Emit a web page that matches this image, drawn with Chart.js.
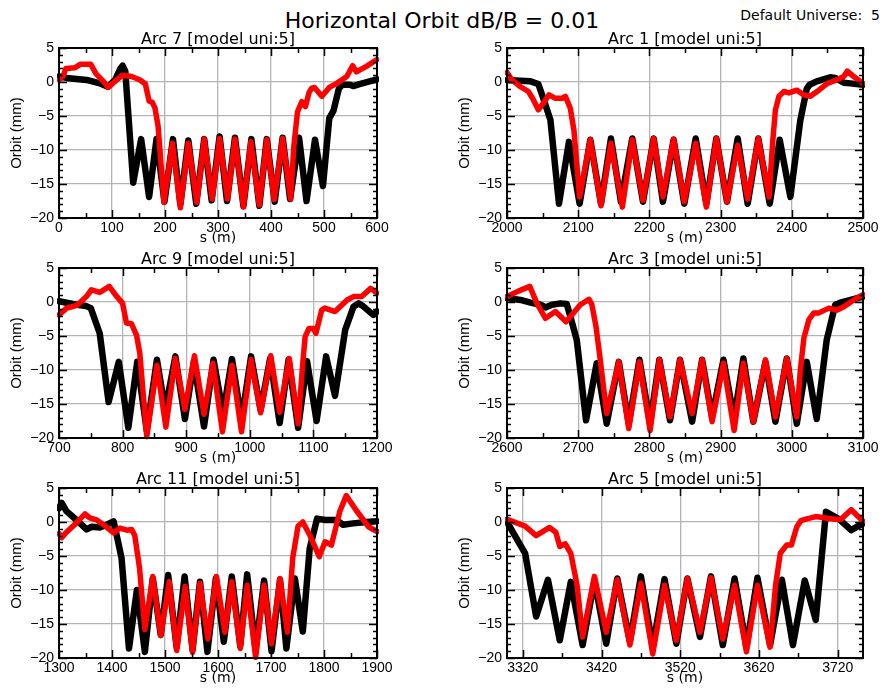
<!DOCTYPE html>
<html><head><meta charset="utf-8">
<script src="https://cdn.jsdelivr.net/npm/chart.js@4/dist/chart.umd.min.js"></script>
<style>
html,body{margin:0;padding:0;background:#fff;width:884px;height:689px;overflow:hidden;position:relative}
canvas{position:absolute}
#title{position:absolute;left:0;width:884px;top:8px;text-align:center;font:22px "DejaVu Sans";line-height:26px;color:#000}
#uni{position:absolute;right:4px;top:7px;font:14px "DejaVu Sans";line-height:16px;white-space:pre;color:#000}
</style></head><body>
<div id="title">Horizontal Orbit dB/B = 0.01</div>
<div id="uni">Default Universe:  5</div>
<canvas id="c0"></canvas><canvas id="c1"></canvas><canvas id="c2"></canvas>
<canvas id="c3"></canvas><canvas id="c4"></canvas><canvas id="c5"></canvas>
<script>
// ---------- data: [s (m), orbit (mm)] ----------
const arc7Black = [[0,0.8],[14,0.6],[52,0.3],[77,-0.2],[92,-0.7],[106,0.3],[116,2.0],[120,2.4],[125,1.6],[140,-14.8],[155,-8.4],[170,-16.9],[184,-8.4],[199,-17.6],[215,-8.4],[229,-18.0],[244,-8.6],[259,-17.9],[274,-8.4],[288,-17.4],[303,-8.0],[317,-17.5],[332,-8.2],[348,-18.2],[363,-8.4],[378,-18.2],[392,-8.4],[407,-17.6],[422,-8.2],[436,-17.2],[453,-8.2],[467,-17.5],[483,-8.5],[498,-15.3],[510,-5.3],[518,-4.2],[528,-1.0],[534,-0.4],[549,-0.4],[555,-0.6],[567,-0.3],[600,0.4]];
const arc7Red = [[0,0.3],[8,0.9],[13,2.0],[30,2.1],[40,2.6],[60,2.6],[70,1.2],[84,0.1],[93,-0.8],[104,0.0],[120,1.0],[137,0.8],[153,0.3],[163,-0.3],[170,-2.8],[176,-3.0],[181,-3.8],[187,-6.5],[198,-17.7],[214,-9.0],[229,-18.5],[244,-9.0],[260,-17.7],[274,-8.4],[289,-17.2],[303,-8.3],[318,-17.2],[332,-8.4],[348,-18.4],[362,-8.8],[378,-18.1],[392,-8.5],[406,-17.3],[422,-8.3],[437,-17.2],[443,-9.5],[450,-4.4],[458,-2.9],[465,-3.6],[472,-1.5],[477,-0.9],[482,-0.8],[496,-2.1],[510,-0.8],[524,-0.2],[543,0.8],[554,2.4],[561,1.5],[580,2.3],[600,3.3]];

const arc1Black = [[2000,0.3],[2019,0.2],[2033,0.1],[2044,-0.3],[2051,-2.4],[2061,-5.6],[2073,-17.9],[2087,-8.8],[2102,-17.9],[2117,-8.5],[2132,-17.9],[2146,-8.3],[2160,-17.6],[2176,-8.3],[2191,-17.6],[2206,-8.3],[2219,-17.6],[2234,-8.5],[2249,-17.9],[2265,-8.3],[2280,-17.9],[2294,-8.3],[2309,-17.6],[2324,-8.3],[2338,-17.9],[2353,-8.3],[2369,-17.9],[2383,-8.5],[2398,-16.9],[2412,-5.6],[2421,-1.0],[2425,-0.4],[2435,0.1],[2454,0.7],[2461,0.6],[2473,-0.1],[2482,-0.2],[2500,-0.4]];
const arc1Red = [[2000,1.4],[2007,0.3],[2019,-0.7],[2030,-1.4],[2037,-2.6],[2044,-4.1],[2049,-3.4],[2059,-1.9],[2068,-2.4],[2077,-2.4],[2082,-2.1],[2089,-3.9],[2094,-7.1],[2102,-16.9],[2117,-8.5],[2132,-18.2],[2146,-9.0],[2162,-18.4],[2176,-8.5],[2191,-17.4],[2206,-8.3],[2219,-16.9],[2234,-8.4],[2249,-17.6],[2265,-9.0],[2280,-18.4],[2294,-8.3],[2309,-17.6],[2324,-9.3],[2338,-17.2],[2353,-8.3],[2368,-16.9],[2373,-9.0],[2377,-4.1],[2382,-2.1],[2389,-1.4],[2396,-1.6],[2407,-1.2],[2417,-1.9],[2426,-2.1],[2438,-1.2],[2450,-0.2],[2463,0.3],[2473,0.8],[2478,1.6],[2487,0.8],[2500,-0.2]];

const arc9Black = [[700,0.1],[712,-0.1],[728,-0.4],[743,-0.6],[750,-0.9],[764,-4.6],[778,-14.7],[794,-8.8],[809,-18.5],[823,-8.8],[838,-18.9],[854,-8.5],[867,-15.9],[883,-8.0],[898,-17.2],[912,-8.8],[928,-18.3],[943,-8.5],[958,-16.4],[972,-8.4],[987,-17.4],[1002,-8.0],[1017,-15.9],[1032,-8.3],[1047,-17.8],[1061,-8.5],[1076,-18.5],[1090,-8.7],[1105,-17.5],[1120,-8.0],[1134,-13.8],[1150,-4.1],[1163,-0.7],[1171,-0.2],[1178,-0.6],[1194,-1.9],[1200,-1.4]];
const arc9Red = [[700,-1.9],[712,-0.9],[720,-0.7],[728,-0.5],[743,0.8],[751,1.8],[764,1.4],[779,2.3],[790,0.9],[800,-0.2],[806,-3.1],[814,-3.2],[822,-4.9],[827,-7.5],[838,-19.8],[854,-9.3],[868,-18.4],[883,-8.3],[898,-15.8],[913,-7.9],[928,-16.5],[942,-9.0],[957,-19.1],[972,-9.3],[987,-19.1],[1002,-8.5],[1017,-16.3],[1033,-7.9],[1047,-16.2],[1062,-8.3],[1076,-17.9],[1083,-9.3],[1087,-5.1],[1093,-3.9],[1100,-3.9],[1104,-4.6],[1113,-1.2],[1118,-0.9],[1134,-1.4],[1153,0.3],[1163,0.8],[1176,0.8],[1190,2.0],[1200,1.3]];

const arc3Black = [[2600,0.6],[2619,0.3],[2633,-0.1],[2647,-0.4],[2654,-0.8],[2663,-0.4],[2675,-0.2],[2684,-0.3],[2691,-2.9],[2698,-5.6],[2711,-17.4],[2726,-9.0],[2740,-17.9],[2757,-8.8],[2771,-17.9],[2786,-8.5],[2801,-17.9],[2814,-8.5],[2829,-17.4],[2843,-8.5],[2860,-17.6],[2874,-8.5],[2888,-16.9],[2904,-8.5],[2919,-17.2],[2932,-8.3],[2946,-17.6],[2963,-8.8],[2977,-17.6],[2993,-8.3],[3007,-17.9],[3021,-8.8],[3035,-17.2],[3049,-5.6],[3061,-0.4],[3068,-0.1],[3100,0.8]];
const arc3Red = [[2600,0.8],[2616,1.6],[2632,2.3],[2642,-0.2],[2654,-2.4],[2668,-1.4],[2683,-2.9],[2691,-1.9],[2703,-0.4],[2715,0.4],[2719,-0.3],[2725,-3.6],[2731,-8.5],[2740,-16.4],[2757,-8.8],[2771,-18.6],[2786,-8.8],[2801,-18.9],[2814,-8.5],[2829,-16.9],[2843,-8.5],[2860,-16.4],[2874,-8.5],[2888,-17.6],[2904,-9.0],[2919,-18.9],[2932,-9.0],[2946,-17.6],[2963,-8.5],[2977,-16.9],[2993,-8.3],[3007,-16.9],[3012,-10.0],[3017,-5.3],[3024,-2.6],[3031,-1.6],[3038,-1.6],[3052,-0.9],[3063,-1.2],[3073,-0.7],[3087,0.3],[3100,1.1]];

const arc11Black = [[1300,2.0],[1305,2.8],[1314,1.6],[1333,0.3],[1352,-1.1],[1362,-0.7],[1377,-0.8],[1390,-0.4],[1403,0.1],[1409,-2.0],[1418,-5.3],[1432,-18.6],[1447,-10.0],[1462,-19.1],[1477,-8.3],[1492,-16.6],[1506,-7.8],[1522,-18.4],[1537,-8.0],[1552,-18.8],[1566,-8.8],[1580,-19.1],[1596,-8.3],[1611,-17.6],[1626,-8.0],[1642,-18.2],[1655,-7.7],[1671,-18.8],[1687,-8.6],[1701,-19.0],[1717,-8.5],[1729,-18.6],[1745,-8.3],[1760,-16.1],[1773,-3.9],[1787,0.5],[1802,0.3],[1823,0.3],[1836,-0.4],[1855,-0.2],[1880,0.0],[1900,0.1]];
const arc11Red = [[1300,-1.7],[1305,-2.3],[1314,-1.5],[1332,-0.2],[1349,1.2],[1358,0.6],[1371,0.3],[1384,-0.4],[1403,-1.6],[1415,-0.9],[1428,-1.2],[1437,-1.1],[1443,-2.0],[1452,-6.8],[1462,-15.8],[1477,-8.0],[1492,-16.7],[1508,-8.8],[1522,-18.9],[1538,-9.5],[1552,-19.2],[1566,-9.0],[1581,-17.2],[1597,-8.0],[1613,-16.2],[1626,-8.8],[1642,-18.6],[1655,-9.3],[1671,-19.9],[1687,-9.3],[1701,-17.9],[1717,-8.3],[1731,-16.2],[1741,-5.3],[1751,-0.6],[1760,0.0],[1773,-1.9],[1791,-5.1],[1802,-2.9],[1814,-3.4],[1830,1.6],[1842,3.9],[1860,1.8],[1884,-0.7],[1900,-1.4]];

const arc5Black = [[3300,0.0],[3323,-4.6],[3337,-13.9],[3352,-8.5],[3367,-17.4],[3381,-8.8],[3396,-18.1],[3411,-8.6],[3426,-17.9],[3440,-8.3],[3456,-17.6],[3470,-8.0],[3485,-18.4],[3500,-8.4],[3515,-17.9],[3529,-8.3],[3545,-16.9],[3559,-8.0],[3574,-18.1],[3589,-8.3],[3604,-18.4],[3618,-8.2],[3634,-18.1],[3649,-8.5],[3663,-18.1],[3678,-8.6],[3692,-14.4],[3705,1.5],[3722,0.4],[3737,-1.2],[3752,-0.2]];
const arc5Red = [[3300,0.4],[3323,-0.6],[3337,-2.0],[3354,-0.8],[3362,-1.5],[3367,-3.6],[3374,-3.2],[3381,-4.6],[3389,-9.3],[3396,-16.9],[3411,-8.0],[3426,-16.2],[3440,-8.5],[3456,-18.1],[3470,-9.0],[3485,-19.4],[3500,-9.3],[3515,-17.4],[3529,-8.3],[3545,-16.2],[3559,-8.2],[3574,-17.2],[3589,-9.3],[3604,-19.1],[3618,-9.3],[3634,-18.4],[3641,-9.3],[3647,-4.6],[3655,-3.4],[3661,-3.4],[3668,-0.7],[3673,0.2],[3682,0.5],[3692,0.8],[3716,0.4],[3724,0.4],[3737,1.8],[3752,0.1]];

// ---------- tick labels ----------
const yTicks = [-20, -15, -10, -5, 0, 5];
const arc7Ticks = [0, 100, 200, 300, 400, 500, 600];
const arc1Ticks = [2000, 2100, 2200, 2300, 2400, 2500];
const arc9Ticks = [700, 800, 900, 1000, 1100, 1200];
const arc3Ticks = [2600, 2700, 2800, 2900, 3000, 3100];
const arc11Ticks = [1300, 1400, 1500, 1600, 1700, 1800, 1900];
const arc5Ticks = [3320, 3420, 3520, 3620, 3720];
const titles = ['Arc 7 [model uni:5]', 'Arc 1 [model uni:5]', 'Arc 9 [model uni:5]', 'Arc 3 [model uni:5]', 'Arc 11 [model uni:5]', 'Arc 5 [model uni:5]'];
const xMinorStep = 50, yMinorStep = 1;

// ---------- layout ----------
const panels = [
  {title: titles[0], black: arc7Black, red: arc7Red, ticks: arc7Ticks, min: 0, max: 600, col: 0, row: 0},
  {title: titles[1], black: arc1Black, red: arc1Red, ticks: arc1Ticks, min: 2000, max: 2500, col: 1, row: 0},
  {title: titles[2], black: arc9Black, red: arc9Red, ticks: arc9Ticks, min: 700, max: 1200, col: 0, row: 1},
  {title: titles[3], black: arc3Black, red: arc3Red, ticks: arc3Ticks, min: 2600, max: 3100, col: 1, row: 1},
  {title: titles[4], black: arc11Black, red: arc11Red, ticks: arc11Ticks, min: 1300, max: 1900, col: 0, row: 2},
  {title: titles[5], black: arc5Black, red: arc5Red, ticks: arc5Ticks, min: 3300, max: 3752, col: 1, row: 2}
];
const colGeom = [{left: 0, width: 440, padR: 63}, {left: 448, width: 436, padR: 21}];
const rowTop = [28, 248, 468];
const canvasH = 222;

const framePlugin = {
  id: 'frame',
  afterDatasetsDraw(chart, args, opts) {
    const {ctx, chartArea: a} = chart;
    const x = chart.scales.x, y = chart.scales.y;
    ctx.save();
    ctx.strokeStyle = '#000';
    ctx.lineWidth = 1.5;
    ctx.beginPath();
    const base = opts.base;
    let v = base + Math.ceil((x.min - base) / xMinorStep) * xMinorStep;
    for (; v <= x.max + 1e-6; v += xMinorStep) {
      const px = Math.round(x.getPixelForValue(v)) + 0.5;
      const major = Math.round((v - base) / xMinorStep) % 2 === 0;
      const len = major ? 8 : 5;
      ctx.moveTo(px, a.top); ctx.lineTo(px, a.top + len);
      ctx.moveTo(px, a.bottom); ctx.lineTo(px, a.bottom - len);
    }
    for (let w = y.min; w <= y.max + 1e-6; w += yMinorStep) {
      const py = Math.round(y.getPixelForValue(w)) + 0.5;
      const len = (Math.round(w) % 5 === 0) ? 8 : 4;
      ctx.moveTo(a.left, py); ctx.lineTo(a.left + len, py);
      ctx.moveTo(a.right, py); ctx.lineTo(a.right - len, py);
    }
    ctx.stroke();
    ctx.lineWidth = 2;
    ctx.strokeRect(a.left, a.top, a.right - a.left, a.bottom - a.top);
    ctx.restore();
  }
};

const toXY = arr => arr.map(p => ({x: p[0], y: p[1]}));
const minus = v => String(v).replace('-', '\u2212');

panels.forEach((p, i) => {
  const cv = document.getElementById('c' + i);
  const g = colGeom[p.col];
  cv.width = g.width; cv.height = canvasH;
  cv.style.left = g.left + 'px'; cv.style.top = rowTop[p.row] + 'px';
  cv.style.width = g.width + 'px'; cv.style.height = canvasH + 'px';
  new Chart(cv, {
    type: 'line',
    data: {
      datasets: [
        {data: toXY(p.black), borderColor: '#000000', borderWidth: 6.5, order: 2},
        {data: toXY(p.red), borderColor: '#ff0000', borderWidth: 5.5, order: 1}
      ]
    },
    options: {
      responsive: false, animation: false, devicePixelRatio: 1,
      parsing: true,
      elements: {
        line: {tension: 0, borderJoinStyle: 'round', borderCapStyle: 'round', fill: false},
        point: {radius: 0, hoverRadius: 0}
      },
      datasets: {line: {clip: 2}},
      layout: {padding: {left: 0, right: g.padR, top: 0, bottom: 0}},
      plugins: {
        legend: {display: false},
        tooltip: {enabled: false},
        title: {display: true, text: p.title, color: '#000', fullSize: false,
          font: {family: 'DejaVu Sans', size: 16, weight: 'normal', lineHeight: 1},
          padding: {top: 4, bottom: 0}},
        frame: {base: p.ticks[0]}
      },
      scales: {
        x: {
          type: 'linear', min: p.min, max: p.max,
          afterBuildTicks: s => { s.ticks = p.ticks.map(v => ({value: v})); },
          afterFit: s => { s.height = 32; },
          ticks: {autoSkip: false, maxRotation: 0, padding: 3, color: '#000',
            font: {family: 'Liberation Sans', size: 14, lineHeight: 1}, callback: v => minus(v)},
          grid: {color: '#b4b4b4', lineWidth: 1.3, drawTicks: false},
          border: {display: false},
          title: {display: true, text: 's (m)', color: '#000',
            font: {family: 'DejaVu Sans', size: 14, lineHeight: 1}, padding: {top: 0, bottom: 5}}
        },
        y: {
          type: 'linear', min: -20, max: 5,
          afterBuildTicks: s => { s.ticks = yTicks.map(v => ({value: v})); },
          afterFit: s => { s.width = 59; },
          ticks: {autoSkip: false, padding: 5, color: '#000',
            font: {family: 'Liberation Sans', size: 14, lineHeight: 1}, callback: v => minus(v)},
          grid: {color: '#b4b4b4', lineWidth: 1.3, drawTicks: false},
          border: {display: false},
          title: {display: true, text: 'Orbit (mm)', color: '#000',
            font: {family: 'Liberation Sans', size: 15, lineHeight: 1}, padding: {top: 9, bottom: 0}}
        }
      }
    },
    plugins: [framePlugin]
  });
});
</script>
</body></html>
